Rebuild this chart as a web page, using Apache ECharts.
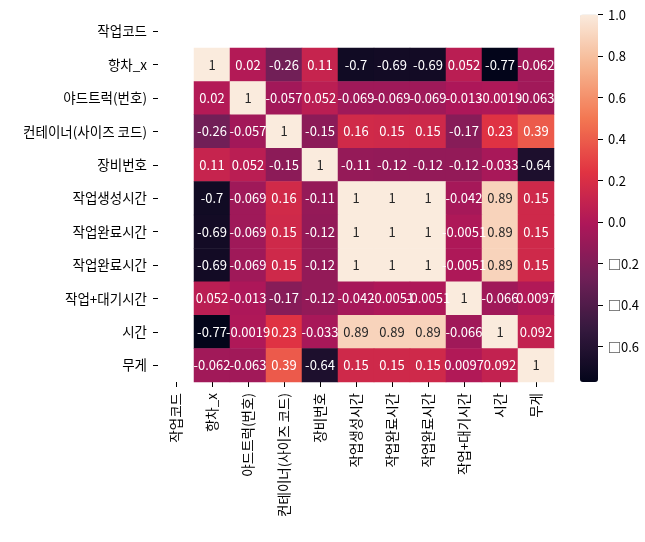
<!DOCTYPE html>
<html>
<head>
<meta charset="utf-8">
<script src="https://cdn.jsdelivr.net/npm/echarts@6/dist/echarts.min.js"></script>
<style>
html,body{margin:0;padding:0;background:#fff;}
#chart{width:645px;height:542px;}
</style>
</head>
<body>
<div id="chart"></div>
<script>
// Categories (row and column labels)
const labels = ['작업코드','항차_x','야드트럭(번호)','컨테이너(사이즈 코드)','장비번호','작업생성시간','작업완료시간','작업완료시간','작업+대기시간','시간','무게'];

// Correlation matrix rows (null = NaN, not drawn)
const rowCode      = [null,null,null,null,null,null,null,null,null,null,null];
const rowVoyage    = [null, 1, 0.02, -0.26, 0.11, -0.7, -0.69, -0.69, 0.052, -0.77, -0.062];
const rowTruck     = [null, 0.02, 1, -0.057, 0.052, -0.069, -0.069, -0.069, -0.013, -0.0019, -0.063];
const rowContainer = [null, -0.26, -0.057, 1, -0.15, 0.16, 0.15, 0.15, -0.17, 0.23, 0.39];
const rowEquip     = [null, 0.11, 0.052, -0.15, 1, -0.11, -0.12, -0.12, -0.12, -0.033, -0.64];
const rowCreate    = [null, -0.7, -0.069, 0.16, -0.11, 1, 1, 1, -0.042, 0.89, 0.15];
const rowDone1     = [null, -0.69, -0.069, 0.15, -0.12, 1, 1, 1, -0.0051, 0.89, 0.15];
const rowDone2     = [null, -0.69, -0.069, 0.15, -0.12, 1, 1, 1, -0.0051, 0.89, 0.15];
const rowWait      = [null, 0.052, -0.013, -0.17, -0.12, -0.042, -0.0051, -0.0051, 1, -0.066, 0.0097];
const rowTime      = [null, -0.77, -0.0019, 0.23, -0.033, 0.89, 0.89, 0.89, -0.066, 1, 0.092];
const rowWeight    = [null, -0.062, -0.063, 0.39, -0.64, 0.15, 0.15, 0.15, 0.0097, 0.092, 1];
const matrix = [rowCode,rowVoyage,rowTruck,rowContainer,rowEquip,rowCreate,rowDone1,rowDone2,rowWait,rowTime,rowWeight];

// Colorbar
const vmin = -0.77, vmax = 1;
const cbarTicks = [-0.6,-0.4,-0.2,0,0.2,0.4,0.6,0.8,1.0];

// rocket colormap stops
const rocket = ['#03051a','#35193e','#701f57','#ad1759','#e13342','#f37651','#f6b48f','#faebdd'];

const FONT = '"Noto Sans CJK KR", "Noto Sans", sans-serif';

const data = [];
matrix.forEach((row, yi) => {
  row.forEach((v, xi) => {
    if (v === null) return;
    data.push({
      value: [xi, yi, v],
      label: { color: v > 0.6 ? '#262626' : '#ffffff' }
    });
  });
});

const chart = echarts.init(document.getElementById('chart'), null, {renderer:'canvas'});
chart.setOption({
  animation: false,
  backgroundColor: '#ffffff',
  grid: [
    {left: 158, top: 14.6, width: 396, height: 367.4},
    {left: 580, top: 14.6, width: 18, height: 367.4}
  ],
  xAxis: [
    {
      type: 'category', data: labels, gridIndex: 0, position: 'bottom',
      axisLine: {show: false},
      axisTick: {show: true, alignWithLabel: true, length: 5, lineStyle: {color: '#000'}},
      axisLabel: {rotate: 90, interval: 0, margin: 11, fontSize: 13.5, color: '#000', fontFamily: FONT},
      splitLine: {show: false}
    },
    {type: 'value', gridIndex: 1, min: 0, max: 1, show: false}
  ],
  yAxis: [
    {
      type: 'category', data: labels, gridIndex: 0, inverse: true,
      axisLine: {show: false},
      axisTick: {show: true, alignWithLabel: true, length: 5, lineStyle: {color: '#000'}},
      axisLabel: {interval: 0, margin: 11, fontSize: 13.5, color: '#000', fontFamily: FONT},
      splitLine: {show: false}
    },
    {
      type: 'value', gridIndex: 1, position: 'right', min: vmin, max: vmax, z: 10,
      axisLine: {show: false, onZero: false},
      splitLine: {show: false},
      axisTick: {show: true, inside: false, length: 5, customValues: cbarTicks, lineStyle: {color: '#000', width: 1}},
      axisLabel: {
        margin: 10, fontSize: 13, color: '#000', fontFamily: FONT,
        customValues: cbarTicks,
        formatter: v => (v < 0 ? '□' + Math.abs(v).toFixed(1) : v.toFixed(1))
      }
    }
  ],
  visualMap: {
    type: 'continuous', show: true, min: vmin, max: vmax, dimension: 2, seriesIndex: 0,
    calculable: false, orient: 'vertical', left: 580, top: 14.6, z: 1,
    itemWidth: 18, itemHeight: 367.4, padding: 0, text: null, showLabel: false,
    inRange: {color: rocket},
    hoverLink: false
  },
  series: [{
    type: 'heatmap', xAxisIndex: 0, yAxisIndex: 0,
    data: data,
    label: {
      show: true, fontSize: 13, fontFamily: FONT,
      formatter: p => String(p.value[2])
    },
    itemStyle: {borderWidth: 0},
    emphasis: {disabled: true}
  }]
});
</script>
</body>
</html>
